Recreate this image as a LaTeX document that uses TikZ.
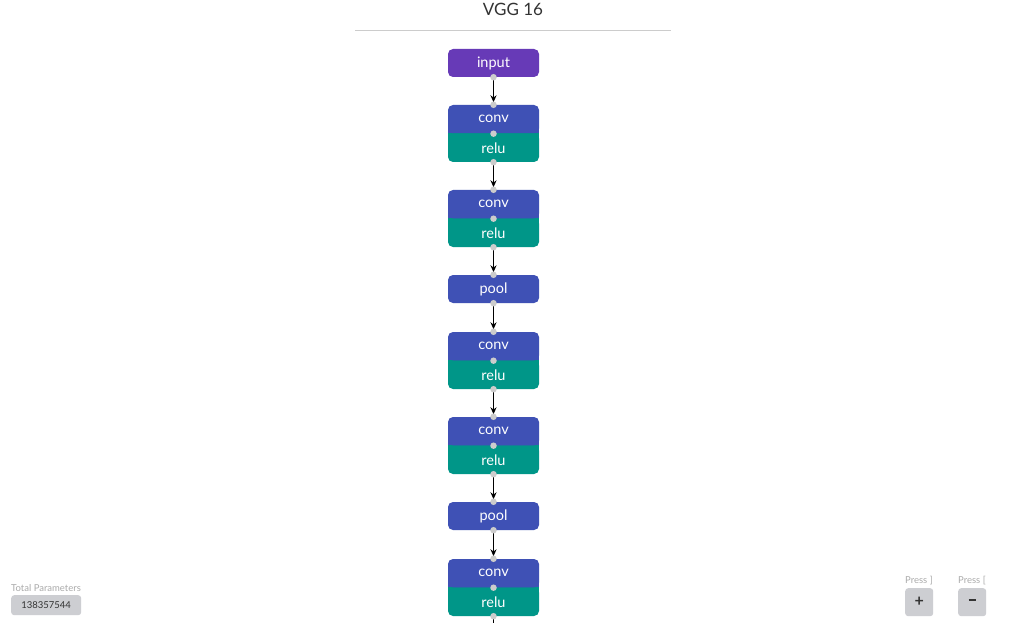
\documentclass[tikz,border=0pt]{standalone}
\usepackage{fontspec}
\setmainfont{Lato}
\usepackage{xcolor}
\usetikzlibrary{arrows.meta}

\definecolor{inputpurple}{HTML}{673AB7}
\definecolor{convblue}{HTML}{3F51B5}
\definecolor{reluteal}{HTML}{009688}
\definecolor{dotgray}{HTML}{CCCCCC}
\definecolor{btngray}{HTML}{CDCED2}
\definecolor{labelgray}{HTML}{AAAAAA}
\definecolor{titlegray}{HTML}{333333}

\pgfdeclarelayer{background}
\pgfsetlayers{background,main}

\tikzset{
  layer/.style={rounded corners=5pt, minimum width=91pt, minimum height=28pt,
    inner sep=0pt, text=white, font=\fontsize{14.5}{16}\selectfont},
  half/.style={layer, minimum height=28.5pt},
  link/.style={-{Stealth[length=7pt,width=6pt]}, line width=1.4pt, shorten >=2.5pt, shorten <=2.5pt},
  port/.style={circle, fill=dotgray, inner sep=0pt, minimum size=6.5pt},
  smalltext/.style={font=\fontsize{9.5}{11}\selectfont, inner sep=0pt},
  button/.style={fill=btngray, rounded corners=3pt, inner sep=0pt}
}

\begin{document}
\begin{tikzpicture}[x=1pt, y=-1pt]

  % Frame
  \useasboundingbox (0,0) rectangle (1010,623);

  % Title
  \node[text=titlegray, font=\fontsize{17}{20}\selectfont] (title) at (513,9) {VGG 16};
  \draw[line width=1pt, color=dotgray] (355,30.5) -- (671,30.5);

  % Layers
  \node[layer, fill=inputpurple] (input) at (493.5,63) {input};

  \node[half, fill=convblue]  (conv1) at (493.5,119.25) {conv};
  \node[half, fill=reluteal]  (relu1) at (493.5,147.75) {relu};
  \node[half, fill=convblue]  (conv2) at (493.5,204.25) {conv};
  \node[half, fill=reluteal]  (relu2) at (493.5,232.75) {relu};

  \node[layer, fill=convblue] (pool1) at (493.5,289) {pool};

  \node[half, fill=convblue]  (conv3) at (493.5,346.25) {conv};
  \node[half, fill=reluteal]  (relu3) at (493.5,374.75) {relu};
  \node[half, fill=convblue]  (conv4) at (493.5,431.25) {conv};
  \node[half, fill=reluteal]  (relu4) at (493.5,459.75) {relu};

  \node[layer, fill=convblue] (pool2) at (493.5,516) {pool};

  \node[half, fill=convblue]  (conv5) at (493.5,573.25) {conv};
  \node[half, fill=reluteal]  (relu5) at (493.5,601.75) {relu};

  % White page and squared joints of the conv/relu pairs
  \begin{pgfonlayer}{background}
    \fill[white] (0,0) rectangle (1010,623);
    \foreach \i in {1,...,5} {
      \fill[convblue] (conv\i.south west) rectangle ([yshift=6pt]conv\i.south east);
      \fill[reluteal] (relu\i.north west) rectangle ([yshift=-6pt]relu\i.north east);
    }
  \end{pgfonlayer}

  % Connectors
  \coordinate (tail) at (493.5,632);
  \draw[link] (input) -- (conv1);
  \draw[link] (relu1) -- (conv2);
  \draw[link] (relu2) -- (pool1);
  \draw[link] (pool1) -- (conv3);
  \draw[link] (relu3) -- (conv4);
  \draw[link] (relu4) -- (pool2);
  \draw[link] (pool2) -- (conv5);
  \draw[line width=1.4pt] (relu5.south) -- (tail);

  % Ports
  \node[port] at (input.south) {};
  \foreach \i in {1,...,5} {
    \node[port] at (conv\i.north) {};
    \node[port] at (conv\i.south) {};
    \node[port] at (relu\i.south) {};
  }
  \foreach \p in {pool1,pool2} {
    \node[port] at (\p.north) {};
    \node[port] at (\p.south) {};
  }

  % Parameter count
  \node[smalltext, text=labelgray, anchor=west] (paramlabel) at (11,588) {Total Parameters};
  \node[button, minimum width=70pt, minimum height=20pt, anchor=north west,
    smalltext, text=titlegray] (paramcount) at (11,595) {138357544};

  % Zoom buttons
  \node[smalltext, text=labelgray, anchor=west] (presszoomin) at (905,581) {Press ]};
  \node[button, minimum size=28pt, anchor=north west, font=\bfseries\fontsize{16}{16}\selectfont,
    text=titlegray] (zoomin) at (905,588) {+};
  \node[smalltext, text=labelgray, anchor=west] (presszoomout) at (958,581) {Press [};
  \node[button, minimum size=28pt, anchor=north west, font=\bfseries\fontsize{16}{16}\selectfont,
    text=titlegray] (zoomout) at (958,588) {\rule[0.25em]{0.45em}{0.12em}};

\end{tikzpicture}
\end{document}
